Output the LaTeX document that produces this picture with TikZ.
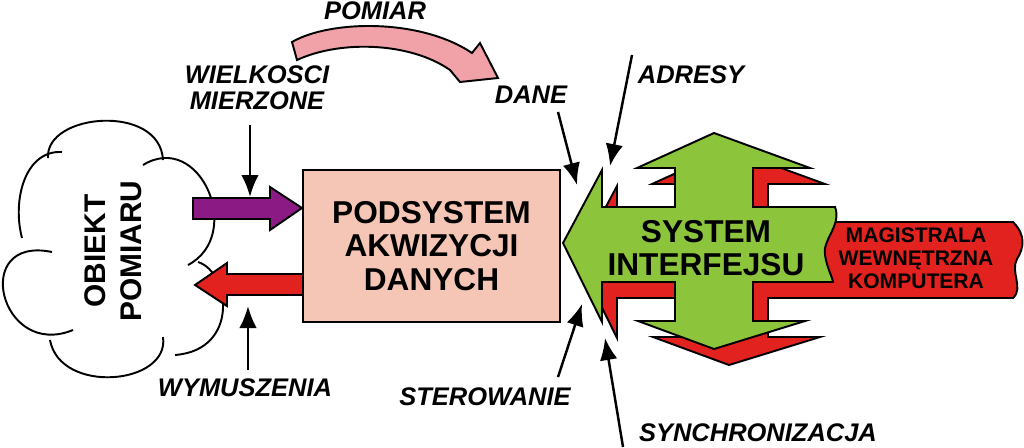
\documentclass[tikz,border=0pt]{standalone}
\usepackage{fontspec}
\setmainfont{Liberation Sans}
\usetikzlibrary{arrows.meta}
\definecolor{boxfill}{RGB}{245,198,182}
\definecolor{busgreen}{RGB}{140,196,60}
\definecolor{busred}{RGB}{226,34,30}
\definecolor{inpurple}{RGB}{140,26,132}
\definecolor{arcpink}{RGB}{240,162,168}
\tikzset{
  lbl/.style={font=\fontsize{14.5}{15}\selectfont\bfseries\itshape, align=center},
  fat/.style={draw=black, line width=1.1pt, line join=miter},
}
\begin{document}
\begin{tikzpicture}[x=0.02cm, y=-0.02cm, line width=1.1pt, >={Latex[length=4.4mm,width=3.5mm]}]
\useasboundingbox (0,0) rectangle (1024,447);

% cloud
\draw (48,158) .. controls (45,113) and (160,103) .. (163,160);
\draw (143,165) .. controls (200,130) and (245,235) .. (188,265);
\draw (198,262) .. controls (230,272) and (240,350) .. (175,355);
\draw (163,337) .. controls (170,385) and (60,395) .. (50,340);
\draw (73,330) .. controls (0,360) and (-30,235) .. (52,252);
\draw (22,238) .. controls (12,200) and (25,150) .. (62,152);
\node[rotate=90, align=center, font=\fontsize{17}{20.5}\selectfont\bfseries] (obj) at (113,251) {OBIEKT\\POMIARU};

% fat arrows
\draw[fat, fill=inpurple] (193,198) -- (270,198) -- (270,187) -- (302,208) -- (270,230) -- (270,219) -- (193,219) -- cycle;
\draw[fat, fill=busred] (303,274) -- (227,274) -- (227,263) -- (195,285) -- (227,306) -- (227,295) -- (303,295) -- cycle;
\draw[fat, fill=arcpink] (292,42) .. controls (330,20) and (420,18) .. (472,53) -- (480,43) -- (498,78) -- (460,82) -- (450,70) .. controls (410,42) and (340,40) .. (297,60) -- cycle;

\node[draw, fill=boxfill, minimum width=5.14cm, minimum height=3.04cm, align=center, font=\fontsize{18}{19}\selectfont\bfseries] (daq) at (431.5,246) {PODSYSTEM\\AKWIZYCJI\\DANYCH};

% interface
\draw[fat, fill=busred] (578,259) -- (617,186) -- (617,222) -- (690,222) -- (690,184) -- (652,184) -- (729,149) -- (825,184) -- (768,184) -- (768,222) -- (1013,222) .. controls (1026,235) and (1024,248) .. (1017,259) .. controls (1010,272) and (1024,288) .. (1013,298) -- (768,298) -- (768,337) -- (820,337) -- (729,365) -- (653,337) -- (690,337) -- (690,298) -- (617,298) -- (617,338) -- cycle;
\draw[fat, fill=busgreen] (563,243) -- (602,170) -- (602,207) -- (675,207) -- (675,168) -- (637,168) -- (714,133) -- (810,168) -- (753,168) -- (753,207) -- (835,207) .. controls (842,225) and (822,240) .. (825,255) .. controls (827,268) and (832,276) .. (833,282) -- (753,282) -- (753,321) -- (805,321) -- (714,349) -- (638,321) -- (675,321) -- (675,282) -- (602,282) -- (602,322) -- cycle;
\node[align=center, font=\fontsize{18}{18.8}\selectfont\bfseries] (iface) at (706,248) {SYSTEM\\INTERFEJSU};
\node[align=center, font=\fontsize{12}{13}\selectfont\bfseries] (bus) at (916,258) {MAGISTRALA\\WEWNĘTRZNA\\KOMPUTERA};

% labels
\node[lbl] (pomiar) at (375,11) {POMIAR};
\node[lbl] (wielk) at (257,88) {WIELKOSCI\\MIERZONE};
\node[lbl] (dane) at (531,95) {DANE};
\node[lbl] (adresy) at (691,75) {ADRESY};
\node[lbl] (sterow) at (485,397) {STEROWANIE};
\node[lbl] (wymusz) at (245,388) {WYMUSZENIA};
\node[lbl] (synchro) at (758,433) {SYNCHRONIZACJA};

\coordinate (w1) at (250,125);
\coordinate (w2) at (250,197);
\coordinate (y1) at (248,370);
\coordinate (y2) at (248,306);
\coordinate (d1) at (558,112);
\coordinate (d2) at (577,185);
\coordinate (a1) at (632,55);
\coordinate (a2) at (610,166);
\coordinate (s1) at (558,377);
\coordinate (s2) at (582,304);
\coordinate (c1) at (623,447);
\coordinate (c2) at (605,338);

\draw[->, line width=1.4pt] (w1) -- (w2);
\draw[->, line width=1.4pt] (y1) -- (y2);
\draw[->, line width=1.4pt] (d1) -- (d2);
\draw[->, line width=1.4pt] (a1) -- (a2);
\draw[->, line width=1.4pt] (s1) -- (s2);
\draw[->, line width=1.4pt] (c1) -- (c2);
\end{tikzpicture}
\end{document}
